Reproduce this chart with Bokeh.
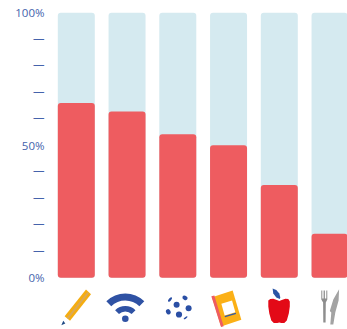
from bokeh.embed import file_html
from bokeh.models import ColumnDataSource, FixedTicker, Range1d
from bokeh.plotting import figure
from bokeh.resources import INLINE

# Share of responses per category, in percent
categories = ["Supplies", "Internet", "Dirt", "Books", "Fruit", "Meals"]
values = [66.0, 62.8, 54.2, 50.0, 35.0, 16.6]
totals = [100, 100, 100, 100, 100, 100]
label_ticks = [0, 50, 100]
label_texts = ["0%", "50%", "100%"]
dash_ticks = [10, 20, 30, 40, 60, 70, 80, 90]
dash_texts = ["—"] * len(dash_ticks)

INK = "#2f52a4"
LABEL = "#4563ac"
RED = "#ee5c60"
PALE = "#d5eaf0"

PITCH = 50.75       # pixels between neighbouring bars
PX_Y = 2.65         # pixels per percentage point
FIRST = 75.8        # pixel centre of the first bar
BASE = 277.3        # pixel row of the zero line
TOP = 12.3          # pixel row of the 100 line
LEFT = 45           # width of the axis gutter
DASH_LIFT = 0.8     # an em dash sits below the text middle; raise its tick to compensate

p = figure(width=347, height=329, output_backend="svg", toolbar_location=None,
           x_range=Range1d((LEFT - FIRST) / PITCH, (347 - FIRST) / PITCH),
           y_range=Range1d(-(329 - BASE) / PX_Y, 100 + TOP / PX_Y),
           min_border_left=LEFT, min_border_right=0, min_border_top=0, min_border_bottom=0,
           frame_width=347 - LEFT, frame_height=329, x_axis_location=None)
p.outline_line_color = None
p.grid.visible = False
p.background_fill_color = "white"

dash_rows = [t + DASH_LIFT for t in dash_ticks]
overrides = dict(zip(label_ticks, label_texts))
overrides.update(zip(dash_rows, dash_texts))

axis = p.yaxis[0]
axis.ticker = FixedTicker(ticks=label_ticks + dash_rows)
axis.major_label_overrides = overrides
axis.axis_line_color = None
axis.major_tick_line_color = None
axis.major_tick_out = 0
axis.major_tick_in = 0
axis.minor_tick_line_color = None
axis.minor_tick_out = 0
axis.minor_tick_in = 0
axis.major_label_text_color = LABEL
axis.major_label_text_font = "Open Sans"
axis.major_label_text_font_size = "11.5px"
axis.major_label_standoff = 1

src = ColumnDataSource(dict(x=list(range(len(categories))), top=values, total=totals))
width = 37 / PITCH
p.vbar(x="x", top="total", bottom=0, width=width, source=src, fill_color=PALE,
       line_color=None, border_radius=3)
p.vbar(x="x", top="top", bottom=0, width=width, source=src, fill_color=RED,
       line_color=None, border_radius=3)


# Pictograms are laid out in pixels around their bar and converted to axis units
def to_xy(slot, pts):
    cx = FIRST + slot * PITCH
    return ([(cx + dx - FIRST) / PITCH for dx, _ in pts],
            [(BASE - y) / PX_Y for _, y in pts])


def shape(slot, pts, color):
    xs, ys = to_xy(slot, pts)
    p.patch(xs, ys, fill_color=color, line_color=None)


def dot(slot, dx, y, w, h, angle, color):
    xs, ys = to_xy(slot, [(dx, y)])
    p.ellipse(xs, ys, width=w, height=h, angle=angle, width_units="screen",
              height_units="screen", fill_color=color, line_color=None)


# pencil
shape(0, [(9.7, 289), (14.7, 293.7), (-6.3, 320.3), (-11.7, 315.7)], "#f5ad10")
shape(0, [(11.2, 291.4), (12.7, 292.6), (-8.0, 318.4), (-9.5, 317.2)], "#d9a95a")
shape(0, [(-15, 324.7), (-11, 323), (-13, 320.3)], "#1f4a85")

# wifi
xs, ys = to_xy(1, [(-1.75, 320)])
p.annular_wedge(xs, ys, inner_radius=20, outer_radius=27, inner_radius_units="screen",
                outer_radius_units="screen", start_angle=0.79, end_angle=2.35,
                fill_color=INK, line_color=None)
p.annular_wedge(xs, ys, inner_radius=9, outer_radius=14.5, inner_radius_units="screen",
                outer_radius_units="screen", start_angle=0.79, end_angle=2.35,
                fill_color=INK, line_color=None)
dot(1, -1.75, 318.3, 6.6, 6.6, 0, INK)

# scattered dots
for dx, y, w, h, a in [(-1.2, 304.3, 6, 6, 0), (10.8, 307.7, 6, 6, 0), (1.2, 314, 6.2, 6.2, 0),
                       (-9.5, 311.3, 4.5, 5.5, 0.5), (7.2, 297.3, 5.5, 4.2, -0.5),
                       (-7.8, 299, 5.5, 2.6, 0.9), (7.8, 317.3, 4.5, 1.6, 0.6)]:
    dot(2, dx, y, w, h, a, "#2a4fa5")

# notebook
shape(3, [(-16.5, 296.7), (4.1, 290), (12.8, 319.3), (-7.5, 326)], "#fbb016")
shape(3, [(-17.2, 295.7), (-14.2, 295), (-4.9, 325.7), (-7.5, 326.5)], "#ee5c61")
shape(3, [(-7.2, 303.3), (3.5, 300), (6.8, 311.7), (-3.9, 315)], "white")
shape(3, [(-3.9, 315.5), (7.1, 312.2), (7.5, 313.4), (-3.5, 316.7)], "#2f5aa8")

# apple
apple_px = [(268.0, 300), (270, 298.5), (273, 298.2), (276.5, 299.5), (279, 300.5), (281.5, 299.5),
            (285, 298.2), (288, 298.5), (289.5, 301), (289.5, 306), (288.5, 313), (286.5, 320),
            (284, 322.5), (281, 322.5), (279, 322), (277, 322.5), (273.5, 322.5), (271, 320),
            (269, 313), (268, 306)]
shape(4, [(x - 279, y) for x, y in apple_px], "#e30a17")
leaf_px = [(272.3, 288), (276, 289.5), (279, 293), (280, 297), (279.5, 298.5), (276, 297),
           (273, 293)]
shape(4, [(x - 279, y) for x, y in leaf_px], "#2a55a5")

# cutlery
GREY = "#8e8e8e"
CUT = 329.75
fork_px = [(321, 290), (322, 290), (322, 298), (323.3, 298), (323.3, 290), (324.6, 290),
           (324.6, 298), (326, 298), (326, 290), (327, 290), (327, 299), (325.5, 302),
           (325.3, 322), (323, 322), (322.8, 302), (321, 299)]
knife_px = [(338.8, 288.8), (338.3, 300), (335, 312), (333, 324), (330, 324), (331, 312),
            (329.5, 310.5), (333, 299)]
shape(5, [(x - CUT, y) for x, y in fork_px], GREY)
shape(5, [(x - CUT, y) for x, y in knife_px], "#a3a3a3")

open("out.html", "w").write(file_html(p, INLINE))
